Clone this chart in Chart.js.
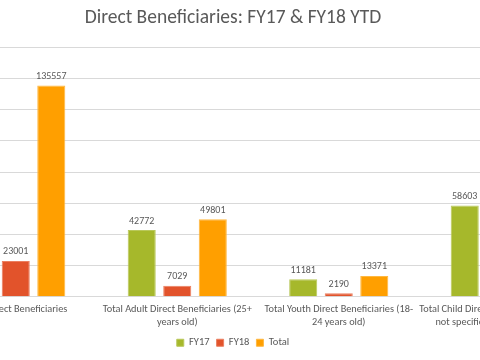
<!DOCTYPE html>
<html>
<head>
<meta charset="utf-8">
<script src="https://cdn.jsdelivr.net/npm/chart.js@4/dist/chart.umd.min.js"></script>
<style>
  html, body { margin: 0; padding: 0; background: #fff; overflow: hidden; }
  #wrap { position: relative; width: 480px; height: 360px; overflow: hidden; }
  #box { position: absolute; left: -115px; top: 0; width: 710px; height: 360px; }
</style>
</head>
<body>
<div id="wrap"><div id="box"><canvas id="c" width="710" height="360"></canvas></div></div>
<script>
const categories = [
  ["Total Direct Beneficiaries"],
  ["Total Adult Direct Beneficiaries (25+", "years old)"],
  ["Total Youth Direct Beneficiaries (18-", "24 years old)"],
  ["Total Child Direct Beneficiaries (0-17 or", "not specified by age or gender)"]
];
const fy17 = [112556, 42772, 11181, 58603];
const fy18 = [23001, 7029, 2190, 13782];
const total = [135557, 49801, 13371, 72385];
const yTicks = [0, 20000, 40000, 60000, 80000, 100000, 120000, 140000, 160000];

const FONT = "Carlito, Calibri, Lato, sans-serif";
const GREY = "#595959";

const valueLabels = {
  id: "valueLabels",
  afterDatasetsDraw(chart) {
    const ctx = chart.ctx;
    ctx.save();
    ctx.font = "10px " + FONT;
    ctx.fillStyle = GREY;
    ctx.textAlign = "center";
    ctx.textBaseline = "bottom";
    chart.data.datasets.forEach((ds, i) => {
      const meta = chart.getDatasetMeta(i);
      meta.data.forEach((el, j) => {
        ctx.fillText(String(ds.data[j]), el.x, el.y - 4);
      });
    });
    ctx.restore();
  }
};

new Chart(document.getElementById("c"), {
  type: "bar",
  data: {
    labels: categories,
    datasets: [
      { label: "FY17", data: fy17, backgroundColor: "#A6B82B", borderColor: "#B9C85A", borderWidth: 1 },
      { label: "FY18", data: fy18, backgroundColor: "#E2532B", borderColor: "#EB7F60", borderWidth: 1 },
      { label: "Total", data: total, backgroundColor: "#FF9F00", borderColor: "#FFB840", borderWidth: 1 }
    ]
  },
  options: {
    responsive: false,
    animation: false,
    devicePixelRatio: 1,
    layout: { padding: { left: 0, right: 14, top: 0, bottom: 2 } },
    datasets: { bar: { categoryPercentage: 0.66, barPercentage: 0.79 } },
    plugins: {
      title: {
        display: true,
        text: "Direct Beneficiaries: FY17 & FY18 YTD",
        color: GREY,
        font: { family: FONT, size: 19.5, weight: "300" },
        padding: { top: 6, bottom: 18 }
      },
      legend: {
        position: "bottom",
        labels: {
          color: GREY,
          font: { family: FONT, size: 10.5 },
          boxWidth: 7,
          boxHeight: 7,
          padding: 7
        }
      },
      tooltip: { enabled: false }
    },
    scales: {
      x: {
        afterFit(scale) { scale.height += 4; },
        grid: { display: false },
        border: { display: false },
        ticks: {
          color: GREY,
          font: { family: FONT, size: 10.3, lineHeight: 1.25 },
          maxRotation: 0,
          autoSkip: false,
          padding: -2
        }
      },
      y: {
        min: 0,
        max: 160000,
        afterFit(scale) { scale.width = 50; },
        afterBuildTicks(scale) { scale.ticks = yTicks.map(v => ({ value: v })); },
        grid: { color: "#d9d9d9", drawTicks: false },
        border: { display: false },
        ticks: { color: GREY, font: { family: FONT, size: 9.5 }, padding: 6 }
      }
    }
  },
  plugins: [valueLabels]
});
</script>
</body>
</html>
